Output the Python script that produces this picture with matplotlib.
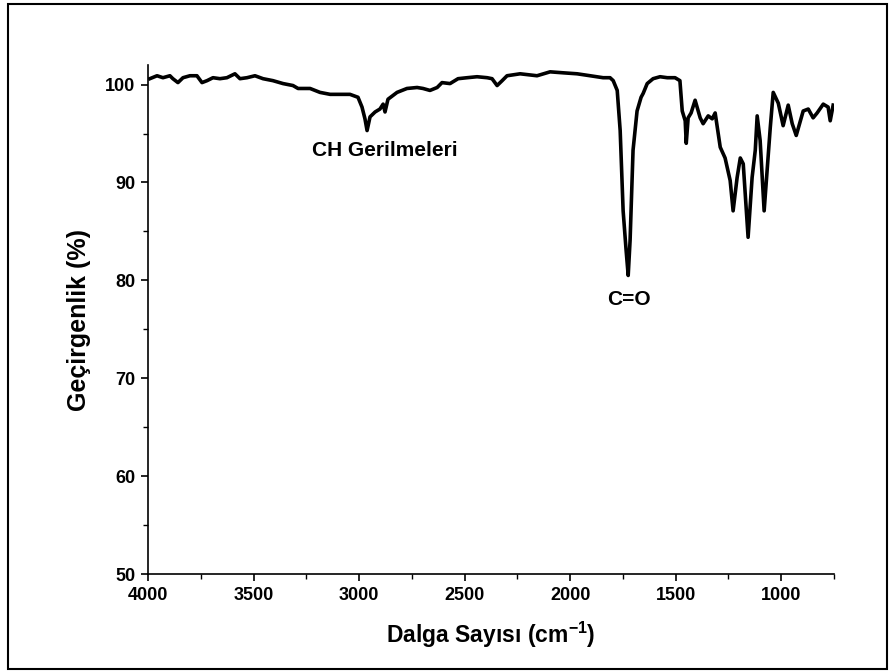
import matplotlib.pyplot as plt
from matplotlib.patches import Rectangle
from matplotlib.ticker import MultipleLocator

# IR spectrum
wavenumber = [3991, 3957, 3929, 3896, 3882, 3858, 3834, 3801, 3768, 3744,
              3720, 3692, 3659, 3626, 3588, 3564, 3531, 3493, 3455, 3408,
              3360, 3313, 3289, 3232, 3185, 3137, 3090, 3043, 3005, 2986,
              2972, 2962, 2948, 2924, 2901, 2886, 2877, 2863, 2820, 2773,
              2725, 2697, 2664, 2630, 2607, 2569, 2531, 2488, 2441, 2393,
              2370, 2346, 2322, 2299, 2237, 2157, 2095, 2033, 1967, 1905,
              1844, 1811, 1796, 1777, 1763, 1749, 1735, 1725, 1716, 1702,
              1683, 1664, 1654, 1635, 1607, 1574, 1540, 1503, 1480, 1469,
              1455, 1450, 1441, 1427, 1408, 1384, 1370, 1346, 1327, 1313,
              1289, 1266, 1242, 1228, 1209, 1194, 1180, 1157, 1138, 1123,
              1114, 1100, 1081, 1067, 1052, 1038, 1014, 991, 967, 948,
              929, 896, 872, 849, 830, 801, 778, 768, 754]
transmittance = [100.6, 100.9, 100.7, 100.9, 100.6, 100.2, 100.7, 100.9, 100.9, 100.2,
                 100.4, 100.7, 100.6, 100.7, 101.1, 100.6, 100.7, 100.9, 100.6, 100.4,
                 100.1, 99.9, 99.6, 99.6, 99.2, 99.0, 99.0, 99.0, 98.7, 97.7,
                 96.5, 95.3, 96.7, 97.2, 97.5, 98.0, 97.2, 98.5, 99.2, 99.6,
                 99.7, 99.6, 99.4, 99.7, 100.2, 100.1, 100.6, 100.7, 100.8, 100.7,
                 100.6, 99.9, 100.4, 100.9, 101.1, 100.9, 101.3, 101.2, 101.1, 100.9,
                 100.7, 100.7, 100.4, 99.4, 95.3, 87.1, 83.1, 80.5, 84.1, 93.3,
                 97.3, 98.7, 99.1, 100.1, 100.6, 100.8, 100.7, 100.7, 100.4, 97.3,
                 96.3, 94.0, 96.6, 97.1, 98.4, 96.6, 96.0, 96.8, 96.5, 97.1,
                 93.6, 92.5, 90.2, 87.1, 90.5, 92.5, 91.9, 84.4, 90.5, 93.3,
                 96.8, 94.3, 87.1, 91.2, 95.6, 99.2, 98.1, 95.8, 97.9, 96.0,
                 94.8, 97.3, 97.5, 96.6, 97.1, 98.0, 97.7, 96.3, 97.9]

labels = ['CH Gerilmeleri', 'C=O']
label_pos = [(2880, 93.3), (1720, 78.0)]

plt.rcParams['font.family'] = ['Liberation Sans', 'DejaVu Sans']
plt.rcParams['font.weight'] = 'bold'
plt.rcParams['mathtext.fontset'] = 'custom'
plt.rcParams['mathtext.rm'] = 'Liberation Sans'
plt.rcParams['mathtext.bf'] = 'Liberation Sans:bold'

fig = plt.figure(figsize=(8.94, 6.72), dpi=100)
ax = fig.add_axes([0.1655, 0.1458, 0.7674, 0.7575])

ax.plot(wavenumber, transmittance, color='black', linewidth=2.6)

ax.set_xlim(4000, 750)
ax.set_ylim(50, 102)
ax.xaxis.set_major_locator(MultipleLocator(500))
ax.xaxis.set_minor_locator(MultipleLocator(250))
ax.yaxis.set_major_locator(MultipleLocator(10))
ax.yaxis.set_minor_locator(MultipleLocator(5))

for s in ['top', 'right']:
    ax.spines[s].set_visible(False)
for s in ['left', 'bottom']:
    ax.spines[s].set_linewidth(1.2)

ax.tick_params(which='major', direction='out', length=5, width=1.2, labelsize=13, pad=4)
ax.tick_params(which='minor', direction='out', length=3.5, width=1.0)
for lbl in ax.get_xticklabels() + ax.get_yticklabels():
    lbl.set_fontweight('bold')

ax.set_xlabel(r'Dalga Sayısı (cm$^{\mathbf{-1}}$)', fontsize=16.5, fontweight='bold', labelpad=12)
ax.set_ylabel('Geçirgenlik (%)', fontsize=18, fontweight='bold', labelpad=10)

for txt, (xw, yv) in zip(labels, label_pos):
    ax.text(xw, yv, txt, fontsize=15, fontweight='bold', ha='center', va='center')

# frame around the whole picture
fig.patches.append(Rectangle((0.009, 0.004), 0.983, 0.99, transform=fig.transFigure,
                             fill=False, edgecolor='black', linewidth=1.5))

fig.savefig('out.png', dpi=100)
